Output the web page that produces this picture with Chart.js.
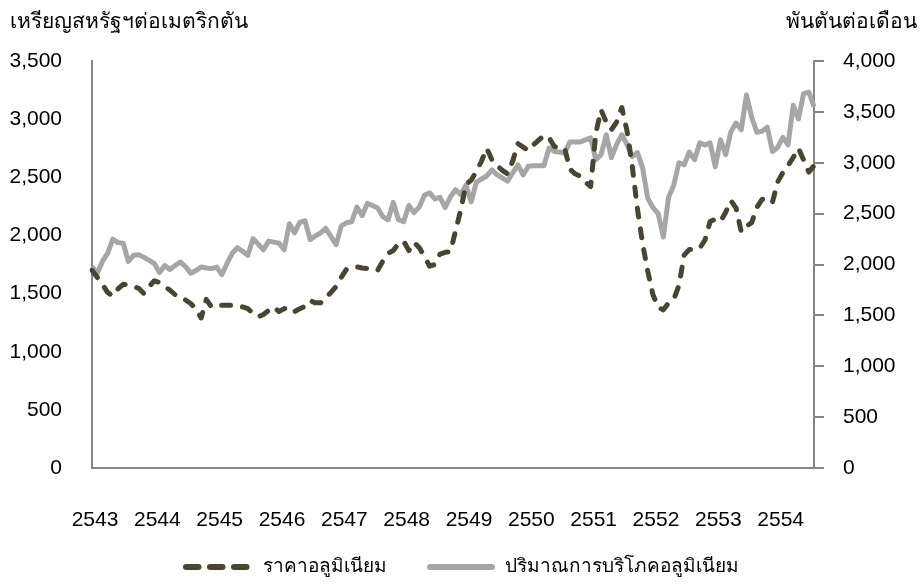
<!DOCTYPE html>
<html>
<head>
<meta charset="utf-8">
<script src="https://cdn.jsdelivr.net/npm/chart.js@4"></script>
<style>
  body { margin: 0; background: #fff; }
  #wrap { width: 920px; height: 586px; position: relative; }
</style>
</head>
<body>
<div id="wrap"><canvas id="aluminiumChart"></canvas></div>
<script>
// ปี (พ.ศ.) ที่แสดงบนแกน X ข้อมูลรายเดือน ม.ค. 2543 - ส.ค. 2554
const years = ['2543', '2544', '2545', '2546', '2547', '2548', '2549', '2550', '2551', '2552', '2553', '2554'];
const monthsInYear = 12;

// ราคาอลูมิเนียม (เหรียญสหรัฐฯต่อเมตริกตัน) - แกนซ้าย
const priceValues = [
    1700, 1640, 1580, 1510, 1480, 1540, 1580, 1575, 1560, 1545,
    1500, 1560, 1610, 1595, 1560, 1530, 1490, 1465, 1445, 1415,
    1370, 1290, 1450, 1385, 1395, 1400, 1400, 1400, 1395, 1385,
    1370, 1330, 1300, 1320, 1355, 1385, 1345, 1370, 1380, 1345,
    1370, 1390, 1440, 1420, 1420, 1465, 1510, 1560, 1640, 1710,
    1725, 1730, 1720, 1715, 1700, 1700, 1780, 1845, 1870, 1930,
    1950, 1870, 1940, 1895, 1820, 1735, 1750, 1840, 1855, 1860,
    2040, 2220, 2440, 2475, 2550, 2640, 2750, 2650, 2600, 2560,
    2530, 2640, 2790, 2760, 2730, 2780, 2820, 2860, 2840, 2765,
    2750, 2750, 2570, 2530, 2510, 2460, 2420, 2880, 3080, 2975,
    2910, 2975, 3100, 2900, 2600, 2230, 1930, 1690, 1490, 1380,
    1360, 1420, 1450, 1570, 1830, 1880, 1880, 1890, 1960, 2120,
    2140, 2120, 2200, 2300, 2235, 2030, 2080, 2110, 2240, 2310,
    2320, 2285, 2460, 2540, 2600, 2670, 2750, 2650, 2545, 2600
];

// ปริมาณการบริโภคอลูมิเนียม (พันตันต่อเดือน) - แกนขวา
const consumptionValues = [
    1980, 1910, 2030, 2110, 2250, 2215, 2210, 2030, 2090, 2095,
    2070, 2040, 2010, 1920, 1990, 1950, 1990, 2025, 1980, 1915,
    1940, 1975, 1965, 1960, 1975, 1900, 2010, 2110, 2165, 2130,
    2090, 2255, 2200, 2145, 2230, 2220, 2210, 2145, 2400, 2310,
    2415, 2430, 2245, 2280, 2310, 2355, 2275, 2195, 2380, 2410,
    2420, 2565, 2480, 2600, 2580, 2555, 2470, 2440, 2610, 2440,
    2420, 2580, 2510, 2565, 2680, 2705, 2645, 2660, 2560, 2665,
    2735, 2685, 2780, 2615, 2810, 2840, 2870, 2930, 2880, 2850,
    2820, 2900, 2980, 2880, 2965, 2970, 2970, 2970, 3145, 3110,
    3105, 3095, 3205, 3205, 3205, 3225, 3245, 3030, 3080, 3275,
    3050, 3180, 3275, 3180, 3060, 3100, 2950, 2650, 2560, 2500,
    2270, 2660, 2780, 3000, 2980, 3105, 3030, 3195, 3175, 3195,
    2960, 3225, 3080, 3305, 3390, 3325, 3665, 3450, 3300, 3310,
    3350, 3110, 3150, 3250, 3175, 3565, 3430, 3680, 3695, 3550
];

const leftTitle = 'เหรียญสหรัฐฯต่อเมตริกตัน';
const rightTitle = 'พันตันต่อเดือน';
const seriesNames = ['ราคาอลูมิเนียม', 'ปริมาณการบริโภคอลูมิเนียม'];

const FONT = '"Liberation Sans", Arial, "Noto Sans", sans-serif';
const AXIS_GRAY = '#868686';

// labels รายเดือน เช่น 2543-1 ... ใช้แสดงเฉพาะเดือนแรกของปี
const monthLabels = priceValues.map((v, i) => years[Math.floor(i / monthsInYear)] + '-' + (i % monthsInYear + 1));

// ชื่อแกนด้านบน
const axisTitlesPlugin = {
    id: 'axisTitles',
    afterDraw(chart) {
        const ctx = chart.ctx;
        ctx.save();
        ctx.fillStyle = '#000';
        ctx.font = '21px ' + FONT;
        ctx.textBaseline = 'alphabetic';
        ctx.textAlign = 'left';
        ctx.fillText(leftTitle, 10, 28);
        ctx.textAlign = 'right';
        ctx.fillText(rightTitle, 917, 28);
        ctx.restore();
    }
};

// legend ด้านล่าง วาดเองให้ตรงกับต้นฉบับ
const bottomLegendPlugin = {
    id: 'bottomLegend',
    afterDraw(chart) {
        const ctx = chart.ctx;
        const ds = chart.data.datasets;
        const items = [
            { x1: 186, x2: 247, textX: 263 },
            { x1: 430, x2: 492, textX: 505 }
        ];
        const y = 567;
        ctx.save();
        items.forEach((item, i) => {
            ctx.beginPath();
            ctx.strokeStyle = ds[i].borderColor;
            ctx.lineWidth = 6;
            ctx.lineCap = 'round';
            ctx.setLineDash(i === 0 ? [12.5, 11.5] : []);
            ctx.moveTo(item.x1, y);
            ctx.lineTo(item.x2, y);
            ctx.stroke();
            ctx.setLineDash([]);
            ctx.fillStyle = '#000';
            ctx.font = '19px ' + FONT;
            ctx.textAlign = 'left';
            ctx.textBaseline = 'middle';
            ctx.fillText(ds[i].label, item.textX, y);
        });
        ctx.restore();
    }
};

new Chart(document.getElementById('aluminiumChart'), {
    type: 'line',
    data: {
        labels: monthLabels,
        datasets: [{
            label: seriesNames[0],
            data: priceValues,
            yAxisID: 'yPrice',
            borderColor: '#4A4530',
            borderWidth: 5,
            borderDash: [9, 12],
            borderCapStyle: 'round',
            borderJoinStyle: 'round',
            pointRadius: 0,
            tension: 0,
            fill: false
        }, {
            label: seriesNames[1],
            data: consumptionValues,
            yAxisID: 'yConsumption',
            borderColor: '#A6A6A6',
            borderWidth: 5,
            borderJoinStyle: 'round',
            pointRadius: 0,
            tension: 0,
            fill: false
        }]
    },
    options: {
        responsive: true,
        maintainAspectRatio: false,
        animation: false,
        layout: { padding: { top: 61, left: 0, right: 0, bottom: 0 } },
        plugins: {
            legend: { display: false },
            title: { display: false },
            tooltip: { enabled: false }
        },
        scales: {
            x: {
                type: 'category',
                offset: false,
                grid: { display: false, drawTicks: false },
                border: { display: true, color: AXIS_GRAY, width: 2 },
                ticks: {
                    autoSkip: false,
                    maxRotation: 0,
                    minRotation: 0,
                    padding: 40,
                    labelOffset: 3,
                    color: '#000',
                    font: { family: FONT, size: 21 },
                    callback: function(value, index) {
                        return index % monthsInYear === 0 ? years[index / monthsInYear] : '';
                    }
                },
                afterFit(scale) { scale.height = 118; }
            },
            yPrice: {
                position: 'left',
                min: 0,
                max: 3500,
                grid: { display: false, drawTicks: false },
                border: { display: true, color: AXIS_GRAY, width: 2 },
                ticks: {
                    stepSize: 500,
                    padding: 30,
                    color: '#000',
                    font: { family: FONT, size: 21 }
                },
                afterFit(scale) { scale.width = 92; }
            },
            yConsumption: {
                position: 'right',
                min: 0,
                max: 4000,
                grid: {
                    display: true,
                    drawOnChartArea: false,
                    drawTicks: true,
                    tickLength: 10,
                    color: AXIS_GRAY,
                    lineWidth: 2
                },
                border: { display: true, color: AXIS_GRAY, width: 2 },
                ticks: {
                    stepSize: 500,
                    padding: 19,
                    color: '#000',
                    font: { family: FONT, size: 21 }
                },
                afterFit(scale) { scale.width = 106; }
            }
        }
    },
    plugins: [axisTitlesPlugin, bottomLegendPlugin]
});
</script>
</body>
</html>
